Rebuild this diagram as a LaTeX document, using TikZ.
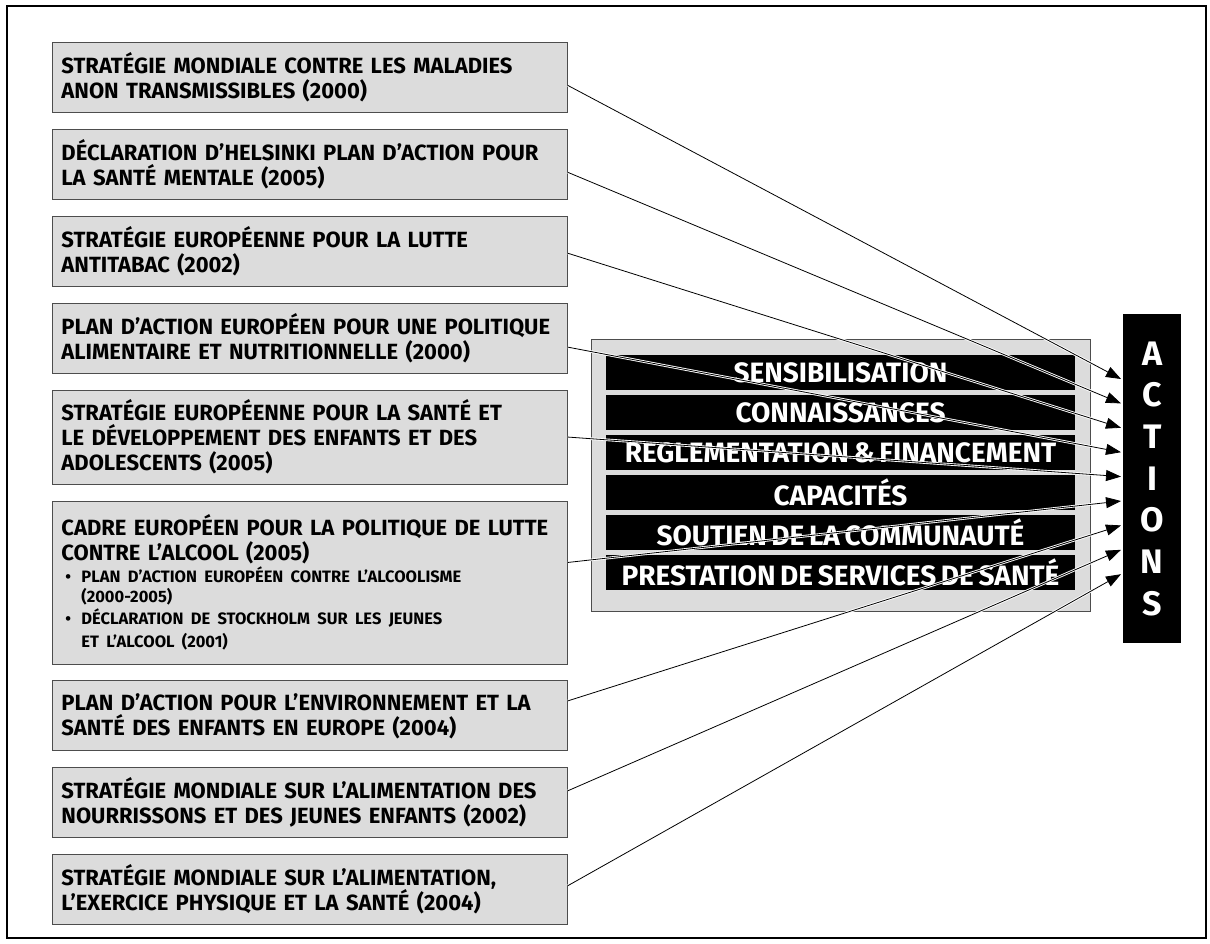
\documentclass[tikz,border=0pt]{standalone}
\usepackage{fontspec}
\setmainfont[WordSpace=0.7]{Fira Sans}
\usepackage{xcolor}
\usepackage{tikz}
\usetikzlibrary{arrows.meta,positioning,calc}
\definecolor{boxgray}{HTML}{DCDCDC}
\definecolor{edgegray}{HTML}{4D4D4D}
\newcommand{\itemfont}{\fontsize{16.5}{20}\selectfont}
\tikzset{
  srcbox/.style={draw=edgegray, fill=boxgray, line width=0.9pt, text width=497pt, align=left,
    inner xsep=9pt, inner ysep=0pt, minimum height=70pt, font=\bfseries\fontsize{22}{25}\selectfont},
  barbox/.style={fill=black, text=white, minimum width=469pt, minimum height=35pt, inner sep=0pt,
    font=\bfseries\fontsize{28}{30}\selectfont},
  feed/.style={-{Triangle[length=15pt,width=11pt]}, line width=0.8pt,
    preaction={draw=white, line width=2.6pt, -, shorten >=14pt}},
}
\begin{document}
\begin{tikzpicture}[x=1pt,y=-1pt]
\useasboundingbox (0,0) rectangle (1210,943);
% Outer frame
\draw[line width=1.2pt] (7,6) rectangle (1206,938);
% Policy documents (left column)
\node[srcbox, anchor=north west] (b1) at (52,42) {STRATÉGIE MONDIALE CONTRE LES MALADIES\\ANON TRANSMISSIBLES (2000)};
\node[srcbox, below=16pt of b1] (b2) {DÉCLARATION D’HELSINKI PLAN D’ACTION POUR\\LA SANTÉ MENTALE (2005)};
\node[srcbox, below=16pt of b2] (b3) {STRATÉGIE EUROPÉENNE POUR LA LUTTE\\ANTITABAC (2002)};
\node[srcbox, below=16pt of b3] (b4) {PLAN D’ACTION EUROPÉEN POUR UNE POLITIQUE\\ALIMENTAIRE ET NUTRITIONNELLE (2000)};
\node[srcbox, below=16pt of b4, minimum height=94pt] (b5) {STRATÉGIE EUROPÉENNE POUR LA SANTÉ ET\\LE DÉVELOPPEMENT DES ENFANTS ET DES\\ADOLESCENTS (2005)};
\node[srcbox, below=16pt of b5, minimum height=163pt] (b6) {CADRE EUROPÉEN POUR LA POLITIQUE DE LUTTE\\CONTRE L’ALCOOL (2005)\\[-3pt]
  {\itemfont\hspace*{4pt}\makebox[16pt][l]{•}PLAN D’ACTION EUROPÉEN CONTRE L’ALCOOLISME}\\[-5pt]
  {\itemfont\hspace*{20pt}(2000-2005)}\\[-3pt]
  {\itemfont\hspace*{4pt}\makebox[16pt][l]{•}DÉCLARATION DE STOCKHOLM SUR LES JEUNES}\\[-2pt]
  {\itemfont\hspace*{20pt}ET L’ALCOOL (2001)}};
\node[srcbox, below=16pt of b6] (b7) {PLAN D’ACTION POUR L’ENVIRONNEMENT ET LA\\SANTÉ DES ENFANTS EN EUROPE (2004)};
\node[srcbox, below=16pt of b7] (b8) {STRATÉGIE MONDIALE SUR L’ALIMENTATION DES\\NOURRISSONS ET DES JEUNES ENFANTS (2002)};
\node[srcbox, below=16pt of b8] (b9) {STRATÉGIE MONDIALE SUR L’ALIMENTATION,\\L’EXERCICE PHYSIQUE ET LA SANTÉ (2004)};
% Central panel with the six fields
\node[draw=edgegray, fill=boxgray, line width=1.2pt, minimum width=499pt, minimum height=272pt,
  inner sep=0pt, anchor=north west] (panel) at (591,339) {};
\foreach \t [count=\k] in {SENSIBILISATION, CONNAISSANCES, REGLEMENTATION \& FINANCEMENT,
    CAPACITÉS, SOUTIEN DE LA COMMUNAUTÉ, PRESTATION DE SERVICES DE SANTÉ}
  \node[barbox] (bar\k) at (840.5,332.5+40*\k) {\t};
% ACTIONS column
\node[fill=black, text=white, minimum width=58pt, minimum height=329pt, inner sep=0pt, align=center,
  font=\bfseries\fontsize{34}{41.7}\selectfont, anchor=north west] (act) at (1123,314)
  {A\\C\\T\\I\\O\\N\\S};
\foreach \k in {1,...,9}
  \coordinate (tip\k) at ($(act.north west)+(-2,65+24.4*\k-24.4)$);
% Connectors
\foreach \k/\dy in {1/-8,2/-8,3/-2,4/-9,5/0,6/20,7/15,8/12,9/4}
  \draw[feed] ([yshift=\dy pt]b\k.east) -- (tip\k);
\end{tikzpicture}
\end{document}
